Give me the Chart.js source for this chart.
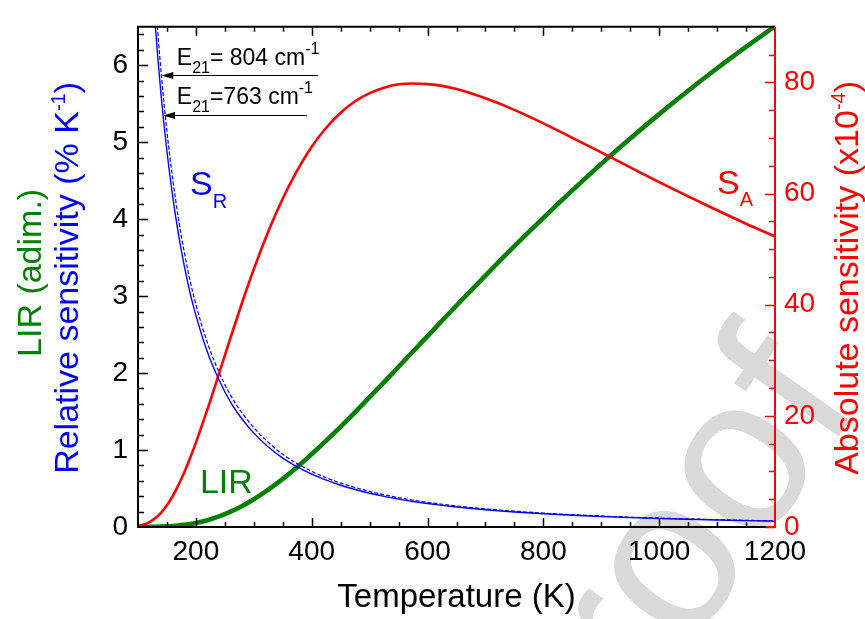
<!DOCTYPE html>
<html>
<head>
<meta charset="utf-8">
<script src="https://cdn.jsdelivr.net/npm/chart.js@4.4.0/dist/chart.umd.min.js"></script>
<style>
  html, body { margin: 0; padding: 0; background: #fff; }
  #wrap { width: 865px; height: 619px; position: relative; }
</style>
</head>
<body>
<div id="wrap"><canvas id="chart"></canvas></div>
<script>
"use strict";

// temperatures (K) the curves are sampled at
const temps = [100, 110, 120, 130, 140, 150, 160, 170, 180, 190, 200, 220, 240, 260, 280, 300, 325, 350, 375, 400,
  425, 450, 475, 500, 525, 550, 575, 600, 625, 650, 700, 750, 800, 850, 900, 950, 1000, 1050, 1100, 1150, 1200];

// luminescence intensity ratio (adim.)
const lir = [0.0002, 0.0005, 0.0011, 0.0023, 0.0044, 0.0076, 0.0124, 0.0189, 0.0276, 0.0387, 0.0525, 0.0887, 0.138,
  0.200, 0.274, 0.361, 0.486, 0.626, 0.780, 0.947, 1.122, 1.305, 1.494, 1.687, 1.883, 2.083, 2.281, 2.480, 2.680,
  2.878, 3.267, 3.649, 4.018, 4.374, 4.719, 5.048, 5.365, 5.669, 5.961, 6.239, 6.507];

// relative sensitivity (% K-1), E21 = 804 cm-1 (dashed) and 763 cm-1 (solid)
const srE804 = [11.57, 9.56, 8.03, 6.85, 5.90, 5.14, 4.52, 4.00, 3.57, 3.20, 2.89, 2.39, 2.01, 1.71, 1.48, 1.29, 1.10,
  0.944, 0.823, 0.723, 0.640, 0.571, 0.513, 0.463, 0.420, 0.382, 0.350, 0.321, 0.296, 0.274, 0.236, 0.206, 0.181,
  0.160, 0.143, 0.128, 0.116, 0.105, 0.096, 0.087, 0.080];
const srE763 = [10.98, 9.07, 7.62, 6.50, 5.60, 4.88, 4.29, 3.80, 3.39, 3.04, 2.75, 2.27, 1.91, 1.62, 1.40, 1.22, 1.04,
  0.896, 0.781, 0.686, 0.608, 0.542, 0.487, 0.439, 0.398, 0.363, 0.332, 0.305, 0.281, 0.260, 0.224, 0.195, 0.172,
  0.152, 0.136, 0.122, 0.110, 0.100, 0.091, 0.083, 0.076];

// absolute sensitivity (x10^-4)
const absSens = [0.19, 0.44, 0.88, 1.60, 2.60, 3.92, 5.58, 7.57, 9.85, 12.40, 15.18, 21.20, 27.63, 34.14, 40.44, 46.39,
  53.18, 59.11, 64.16, 68.43, 71.84, 74.55, 76.60, 78.06, 79.03, 79.65, 79.81, 79.68, 79.37, 78.80, 77.13, 75.06,
  72.63, 70.03, 67.39, 64.72, 62.06, 59.48, 56.99, 54.57, 52.27];

// tick labels
const xTicks = [200, 400, 600, 800, 1000, 1200];
const leftTicks = [0, 1, 2, 3, 4, 5, 6];
const rightTicks = [0, 20, 40, 60, 80];

const FONT = "'Liberation Sans', Arial, sans-serif";
const RED = "#ff0000", GREEN = "#008000", BLUE = "#0000ff";

function pts(vals) {
  return temps.map((t, i) => ({ x: t, y: vals[i] }));
}

// draws a run of text pieces (sub/superscripts) one after another
function richText(ctx, parts, x, y, angle, align) {
  ctx.save();
  ctx.translate(x, y);
  ctx.rotate(angle);
  ctx.textBaseline = "alphabetic";
  ctx.textAlign = "left";
  let total = 0;
  parts.forEach(p => {
    ctx.font = p.size + "px " + FONT;
    p.w = ctx.measureText(p.t).width;
    total += p.w;
  });
  let cx = align === "center" ? -total / 2 : 0;
  parts.forEach(p => {
    ctx.font = p.size + "px " + FONT;
    ctx.fillStyle = p.color;
    ctx.fillText(p.t, cx, p.dy || 0);
    cx += p.w;
  });
  ctx.restore();
}

function tickRun(from, to, step, fn) {
  for (let v = from; v <= to + 1e-9; v += step) fn(Math.round(v * 1000) / 1000);
}

const framePlugin = {
  id: "frame",
  beforeDraw(chart) {
    const ctx = chart.ctx;
    ctx.save();
    ctx.fillStyle = "#fff";
    ctx.fillRect(0, 0, chart.width, chart.height);
    // faint watermark
    ctx.translate(575, 813);
    ctx.rotate(-55 * Math.PI / 180);
    ctx.font = "220px " + FONT;
    ctx.fillStyle = "#d9d9d9";
    ctx.fillText("proof", 0, 0);
    ctx.restore();
  },
  afterDatasetsDraw(chart) {
    const { ctx, chartArea: a, scales: { x, y, y2 } } = chart;
    ctx.save();
    ctx.lineCap = "butt";

    // inward tick marks
    ctx.strokeStyle = "#000";
    ctx.lineWidth = 1.5;
    ctx.beginPath();
    tickRun(150, 1150, 50, v => {
      const px = Math.round(x.getPixelForValue(v)) + 0.5;
      const len = v % 200 === 0 ? 9 : 5;
      ctx.moveTo(px, a.bottom); ctx.lineTo(px, a.bottom - len);
      ctx.moveTo(px, a.top); ctx.lineTo(px, a.top + len);
    });
    tickRun(0.2, 6.4, 0.2, v => {
      const py = Math.round(y.getPixelForValue(v)) + 0.5;
      const major = Math.abs(v - Math.round(v)) < 1e-6;
      ctx.moveTo(a.left, py); ctx.lineTo(a.left + (major ? 10 : 6), py);
    });
    ctx.stroke();

    ctx.strokeStyle = RED;
    ctx.beginPath();
    tickRun(0, 85, 5, v => {
      const py = Math.round(y2.getPixelForValue(v)) + 0.5;
      ctx.moveTo(a.right, py); ctx.lineTo(a.right - (v % 20 === 0 ? 10 : 6), py);
    });
    ctx.stroke();

    // frame
    ctx.lineWidth = 2;
    ctx.strokeStyle = "#000";
    ctx.beginPath();
    ctx.moveTo(a.right, a.top); ctx.lineTo(a.left, a.top);
    ctx.lineTo(a.left, a.bottom); ctx.lineTo(a.right - 9, a.bottom);
    ctx.stroke();
    ctx.strokeStyle = RED;
    ctx.beginPath();
    ctx.moveTo(a.right - 9, a.bottom); ctx.lineTo(a.right, a.bottom); ctx.lineTo(a.right, a.top);
    ctx.stroke();

    // arrows pointing at the two relative sensitivity curves
    const arrows = [
      { tip: 140.3, end: 411, val: 5.88, label: "= 804 cm", labY: 6.0 },
      { tip: 143.2, end: 392, val: 5.35, label: "=763 cm", labY: 5.5 }
    ];
    arrows.forEach(ar => {
      const tx = x.getPixelForValue(ar.tip), ty = Math.round(y.getPixelForValue(ar.val)) + 0.5;
      ctx.strokeStyle = "#000";
      ctx.lineWidth = 1.2;
      ctx.beginPath();
      ctx.moveTo(tx + 10, ty); ctx.lineTo(x.getPixelForValue(ar.end), ty);
      ctx.stroke();
      ctx.fillStyle = "#000";
      ctx.beginPath();
      ctx.moveTo(tx, ty); ctx.lineTo(tx + 12, ty - 3.5); ctx.lineTo(tx + 12, ty + 3.5);
      ctx.closePath();
      ctx.fill();
      richText(ctx, [
        { t: "E", size: 23, color: "#000" },
        { t: "21", size: 16, dy: 8, color: "#000" },
        { t: ar.label, size: 23, color: "#000" },
        { t: "-1", size: 16, dy: -11, color: "#000" }
      ], x.getPixelForValue(167), y.getPixelForValue(ar.labY), 0, "left");
    });

    // curve labels
    richText(ctx, [
      { t: "S", size: 34, color: BLUE },
      { t: "R", size: 20, dy: 13, color: BLUE }
    ], x.getPixelForValue(190), y.getPixelForValue(4.32), 0, "left");
    richText(ctx, [
      { t: "S", size: 34, color: RED },
      { t: "A", size: 20, dy: 12, color: RED }
    ], x.getPixelForValue(1100), y2.getPixelForValue(60), 0, "left");
    richText(ctx, [{ t: "LIR", size: 34, color: GREEN }],
      x.getPixelForValue(207), y.getPixelForValue(0.44), 0, "left");

    // rotated axis titles
    const mid = (a.top + a.bottom) / 2;
    richText(ctx, [{ t: "LIR (adim.)", size: 34, color: GREEN }], 41, mid - 4, -Math.PI / 2, "center");
    richText(ctx, [
      { t: "Relative sensitivity (% K", size: 34, color: BLUE },
      { t: "-1", size: 20, dy: -13, color: BLUE },
      { t: ")", size: 34, color: BLUE }
    ], 78, mid + 1, -Math.PI / 2, "center");
    richText(ctx, [
      { t: "Absolute sensitivity (x10", size: 34, color: RED },
      { t: "-4", size: 20, dy: -13, color: RED },
      { t: ")", size: 34, color: RED }
    ], 858, mid + 1, -Math.PI / 2, "center");
    ctx.restore();
  }
};

const tickFont = { family: FONT, size: 28 };
const hidden = { display: false, drawTicks: false };
const plain = v => String(v);

new Chart(document.getElementById("chart"), {
  type: "line",
  data: {
    datasets: [
      { label: "S_R 763", data: pts(srE763), yAxisID: "y", borderColor: BLUE, borderWidth: 1.4 },
      { label: "S_R 804", data: pts(srE804), yAxisID: "y", borderColor: BLUE, borderWidth: 1.2, borderDash: [4, 2] },
      { label: "S_A", data: pts(absSens), yAxisID: "y2", borderColor: RED, borderWidth: 2.6 },
      { label: "LIR", data: pts(lir), yAxisID: "y", borderColor: GREEN, borderWidth: 4.6 }
    ]
  },
  options: {
    responsive: true,
    maintainAspectRatio: false,
    animation: false,
    layout: { padding: { top: 5, left: 0, right: 0, bottom: 0 } },
    elements: {
      point: { radius: 0 },
      line: { cubicInterpolationMode: "monotone", fill: false }
    },
    plugins: { legend: { display: false }, tooltip: { enabled: false } },
    scales: {
      x: {
        type: "linear", min: 100, max: 1200,
        grid: hidden, border: { display: false },
        afterBuildTicks: s => { s.ticks = xTicks.map(v => ({ value: v })); },
        afterFit: s => { s.height = 92; },
        ticks: { font: tickFont, color: "#000", padding: 8, maxRotation: 0, autoSkip: false, callback: plain },
        title: {
          display: true, text: "Temperature (K)", color: "#000",
          font: { family: FONT, size: 33 }, padding: { top: 0, bottom: 1 }
        }
      },
      y: {
        position: "left", min: 0, max: 6.5,
        grid: hidden, border: { display: false },
        afterBuildTicks: s => { s.ticks = leftTicks.map(v => ({ value: v })); },
        afterFit: s => { s.width = 138; },
        ticks: { font: tickFont, color: "#000", padding: 10, callback: plain }
      },
      y2: {
        position: "right", min: 0, max: 90,
        grid: hidden, border: { display: false },
        afterBuildTicks: s => { s.ticks = rightTicks.map(v => ({ value: v })); },
        afterFit: s => { s.width = 90; },
        ticks: { font: tickFont, color: RED, padding: 9, callback: plain }
      }
    }
  },
  plugins: [framePlugin]
});
</script>
</body>
</html>
